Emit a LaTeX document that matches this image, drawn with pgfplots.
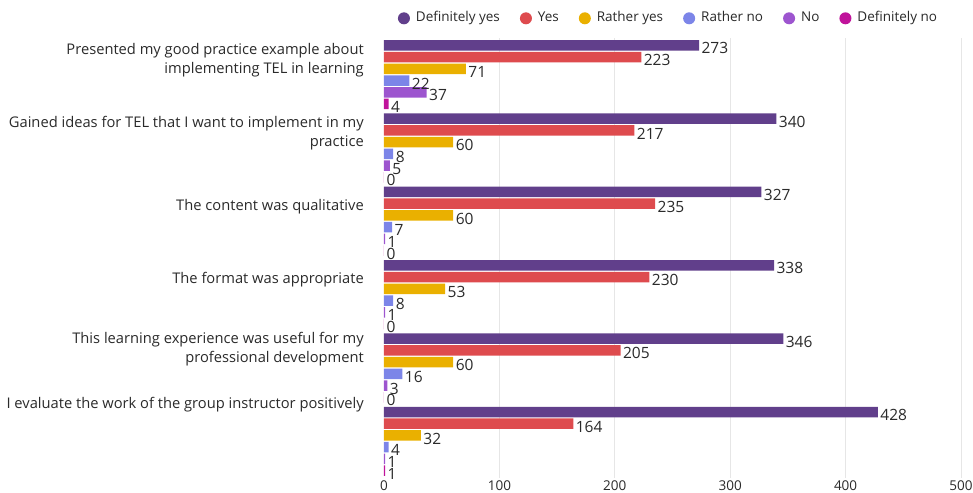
\documentclass[border=0pt]{standalone}
\usepackage{pgfplots}
\pgfplotsset{compat=1.18}
\usepackage{fontspec}
\setmainfont{Open Sans}
\definecolor{c1}{HTML}{613F8B}
\definecolor{c2}{HTML}{DE4B4E}
\definecolor{c3}{HTML}{EAB000}
\definecolor{c4}{HTML}{7C85E8}
\definecolor{c5}{HTML}{9D55CF}
\definecolor{c6}{HTML}{C0139B}
\definecolor{gridgray}{HTML}{E6E6E6}
\definecolor{txt}{HTML}{2A2A2A}
\begin{document}
\begin{tikzpicture}
\begin{axis}[
 scale only axis, width=577pt, height=440pt,
 xmin=0, xmax=500, ymin=-0.5, ymax=5.5, y dir=reverse,
 xbar, bar width=10.5pt, bar shift=0pt,
 xtick={100,200,300,400,500},
 extra x ticks={0}, extra x tick style={grid=none},
 xmajorgrids, grid style={color=gridgray, line width=0.7pt},
 axis line style={draw=none}, major tick length=0pt,
 ytick={-0.2,0.8,1.8,2.8,3.74,4.5},
 yticklabels={{Presented my good practice example about\\implementing TEL in learning},
   {Gained ideas for TEL that I want to implement in my\\practice},
   {The content was qualitative},
   {The format was appropriate},
   {This learning experience was useful for my\\professional development},
   {I evaluate the work of the group instructor positively}},
 yticklabel style={align=right, font=\fontsize{14.7}{19}\selectfont, text=txt, inner sep=0pt, xshift=-20pt},
 xticklabel style={font=\fontsize{13.5}{15}\selectfont, text=txt, yshift=1pt},
 /pgf/number format/assume math mode=true,
 point meta=x,
 nodes near coords,
 nodes near coords style={anchor=west, font=\fontsize{15.5}{17}\selectfont, text=txt, yshift=-3pt, xshift=-1pt},
 legend columns=6,
 legend style={at={(0.5,1)}, anchor=south, xshift=-4pt, yshift=10pt, draw=none, font=\fontsize{13.5}{16}\selectfont, text=txt,
   nodes={text height=1.6ex, text depth=0.45ex},
   /tikz/every odd column/.append style={column sep=4pt},
   /tikz/every even column/.append style={column sep=18pt}},
 legend image code/.code={\path[#1,draw=none] (0.15cm,0pt) circle (6pt);},
]
\addplot[fill=c1, draw=none] coordinates {(273,-0.4) (340,0.6) (327,1.6) (338,2.6) (346,3.6) (428,4.6)};
\addplot[fill=c2, draw=none] coordinates {(223,-0.24) (217,0.76) (235,1.76) (230,2.76) (205,3.76) (164,4.76)};
\addplot[fill=c3, draw=none] coordinates {(71,-0.08) (60,0.92) (60,1.92) (53,2.92) (60,3.92) (32,4.92)};
\addplot[fill=c4, draw=none] coordinates {(22,0.08) (8,1.08) (7,2.08) (8,3.08) (16,4.08) (4,5.08)};
\addplot[fill=c5, draw=none] coordinates {(37,0.24) (5,1.24) (1,2.24) (1,3.24) (3,4.24) (1,5.24)};
\addplot[fill=c6, draw=none] coordinates {(4,0.4) (0,1.4) (0,2.4) (0,3.4) (0,4.4) (1,5.4)};
\legend{Definitely yes, Yes, Rather yes, Rather no, No, Definitely no}
\coordinate (bl) at (axis cs:0,5.5);
\coordinate (tr) at (axis cs:500,-0.5);
\end{axis}
\pgfresetboundingbox
\path ([shift={(-384pt,-15pt)}]bl) rectangle ([shift={(12pt,38pt)}]tr);
\end{tikzpicture}
\end{document}
